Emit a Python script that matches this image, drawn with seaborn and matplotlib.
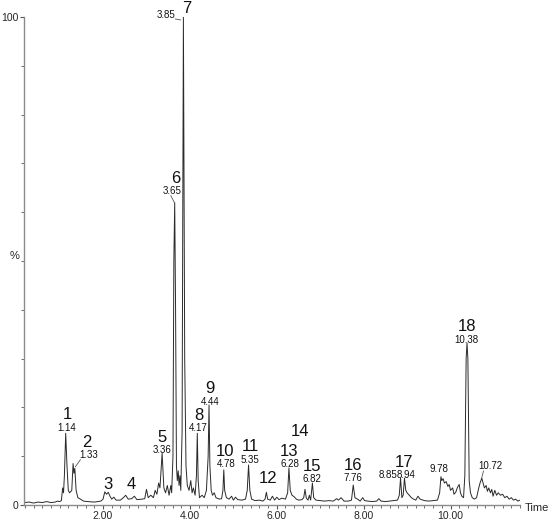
import matplotlib
matplotlib.use("Agg")
import matplotlib.pyplot as plt
import seaborn as sns
import pandas as pd
import numpy as np

# ---- data (retention time in min, relative intensity %) ----
time = [0.18, 0.3, 0.4, 0.5, 0.6, 0.7, 0.8, 0.9, 0.95, 1.0,
        1.04, 1.07, 1.09, 1.11, 1.14, 1.17, 1.20, 1.23,
        1.28, 1.31, 1.33, 1.35, 1.38, 1.42, 1.48, 1.55,
        1.65, 1.8, 1.95, 2.0,
        2.04, 2.08, 2.12, 2.16, 2.2, 2.25, 2.3, 2.4,
        2.48, 2.52, 2.58, 2.66, 2.72, 2.78, 2.9,
        2.96, 3.0, 3.04, 3.1, 3.16, 3.2, 3.24, 3.28, 3.31, 3.36, 3.40, 3.44, 3.48, 3.52, 3.56, 3.58,
        3.61, 3.63, 3.65, 3.67, 3.69, 3.71,
        3.73, 3.75, 3.77, 3.79,
        3.82, 3.85, 3.88, 3.91, 3.94,
        3.98, 4.02, 4.05, 4.08, 4.12,
        4.15, 4.17, 4.19, 4.22, 4.28, 4.33, 4.38,
        4.42, 4.44, 4.46, 4.49, 4.52, 4.56, 4.6, 4.68, 4.73,
        4.76, 4.78, 4.80, 4.84, 4.9, 4.96, 5.0, 5.05, 5.1, 5.2, 5.28,
        5.32, 5.35, 5.38, 5.42, 5.5, 5.6, 5.68,
        5.73, 5.76, 5.79, 5.85, 5.9, 5.95, 6.0, 6.05, 6.12, 6.2,
        6.25, 6.28, 6.31, 6.35, 6.4, 6.45, 6.5, 6.58,
        6.62, 6.65, 6.68, 6.72, 6.75, 6.78, 6.82, 6.85, 6.9, 7.0, 7.1, 7.2, 7.3, 7.38, 7.42, 7.48,
        7.55, 7.65, 7.72,
        7.76, 7.80, 7.86, 7.92, 7.98, 8.02, 8.1, 8.2, 8.3, 8.35, 8.4, 8.5, 8.6, 8.7, 8.78,
        8.82, 8.85, 8.88, 8.91, 8.94, 8.97, 9.0, 9.05, 9.1, 9.15, 9.2, 9.25, 9.3, 9.4, 9.5, 9.6,
        9.7, 9.75,
        9.78, 9.8, 9.83, 9.86, 9.9, 9.94, 9.97, 10.0, 10.05, 10.08, 10.12, 10.16, 10.2, 10.23,
        10.26, 10.3,
        10.33, 10.36, 10.38, 10.40, 10.43, 10.46, 10.5, 10.55, 10.6, 10.65, 10.68,
        10.72, 10.75, 10.78, 10.82, 10.85, 10.88, 10.92, 10.95, 10.98, 11.02, 11.06, 11.1, 11.15,
        11.2, 11.25, 11.3, 11.35, 11.4, 11.45, 11.5, 11.55, 11.6]
intensity = [0.5, 0.6, 0.4, 0.6, 0.5, 0.7, 0.5, 0.6, 0.8, 0.7,
             0.9, 3.5, 2.5, 6.0, 14.7, 8.0, 3.0, 2.5,
             3.0, 8.5, 6.5, 7.5, 3.0, 1.5, 1.2, 0.8,
             0.7, 0.6, 0.8, 1.2,
             2.7, 2.2, 2.6, 1.8, 1.2, 1.6, 1.0, 1.0,
             1.6, 2.0, 1.2, 1.3, 1.8, 1.1, 1.2,
             1.3, 3.2, 1.5, 2.0, 1.5, 3.0, 2.2, 4.5, 3.5, 10.6, 3.5, 2.5, 4.0, 2.0, 4.0, 2.5,
             10.0, 50.0, 62.0, 40.0, 8.0, 5.0,
             7.0, 4.0, 6.0, 3.0,
             15.0, 100.0, 30.0, 8.0, 4.0,
             3.0, 5.0, 2.5, 3.5, 2.0,
             6.0, 14.7, 5.0, 1.5, 2.0, 1.5, 3.0,
             10.0, 20.5, 8.0, 3.0, 2.0, 2.5, 1.5, 1.2, 1.3,
             3.0, 7.2, 3.0, 1.5, 1.2, 1.8, 1.0, 1.6, 1.1, 1.0, 1.2,
             3.0, 8.2, 3.0, 1.2, 0.9, 1.0, 0.8,
             1.2, 2.6, 1.2, 1.0, 1.8, 1.0, 1.6, 1.1, 1.4, 1.2,
             2.5, 7.6, 3.0, 2.0, 1.7, 1.2, 1.0, 1.1,
             1.5, 3.2, 1.4, 1.0, 2.0, 1.0, 4.5, 1.5, 1.0, 0.9, 0.8, 0.9, 0.8, 1.3, 1.0, 1.5,
             0.8, 0.8, 1.0,
             4.1, 1.5, 1.2, 0.8, 1.5, 0.9, 0.8, 0.7, 0.8, 1.3, 0.8, 0.7, 0.8, 0.9, 1.0,
             2.0, 5.5, 1.5, 2.0, 5.5, 3.0, 2.5, 2.0, 1.5, 1.2, 1.0, 1.8, 1.2, 0.9, 0.8, 0.9,
             1.0, 2.5,
             5.8, 5.0, 5.4, 4.5, 4.8, 3.8, 4.2, 3.0, 3.5, 2.2, 2.6, 3.6, 4.2, 2.5,
             1.8, 1.5,
             6.0, 30.0, 33.2, 30.0, 5.0, 2.5, 1.5, 1.2, 1.5, 3.5, 4.5,
             5.5, 4.5, 3.5, 4.0, 2.8, 3.5, 2.5, 3.2, 1.8, 3.0, 2.0, 2.5, 2.0,
             2.2, 1.5, 1.8, 1.2, 1.5, 1.0, 1.2, 0.8, 1.0]

# peak number labels: (text, time, %)
peak_numbers = ["1", "2", "3", "4", "5", "6", "7", "8", "9", "10", "11", "12", "13", "14",
                "15", "16", "17", "18"]
peak_num_x = [1.19, 1.62, 2.11, 2.64, 3.36, 3.68, 3.92, 4.21, 4.46, 4.81, 5.39, 5.80, 6.29,
              6.54, 6.82, 7.76, 8.94, 10.39]
peak_num_y = [18.6, 12.9, 4.3, 4.3, 13.9, 67.0, 101.8, 18.4, 23.8, 10.9, 11.9, 5.5, 10.9,
              15.0, 7.8, 8.0, 8.8, 36.5]

# retention-time labels: (text, time, %)
rt_text = ["1.14", "1.33", "3.36", "3.65", "3.85", "4.17", "4.44", "4.78", "5.35", "6.28",
           "6.82", "7.76", "8.85", "8.94", "9.78", "10.72", "10.38"]
rt_x = [1.17, 1.66, 3.36, 3.59, 3.45, 4.19, 4.46, 4.83, 5.39, 6.31,
        6.82, 7.76, 8.55, 8.97, 9.74, 10.92, 10.36]
rt_y = [15.8, 10.2, 11.3, 64.3, 100.4, 15.8, 21.1, 8.4, 9.2, 8.4,
        5.3, 5.5, 6.1, 6.1, 7.4, 8.0, 33.8]

x_ticks = [2.0, 4.0, 6.0, 8.0, 10.0]
x_tick_labels = ["2.00", "4.00", "6.00", "8.00", "10.00"]

df = pd.DataFrame({"Time": time, "Intensity": intensity})

sns.set_style("white")
plt.rcParams["font.family"] = ["Liberation Sans", "DejaVu Sans"]

fig = plt.figure(figsize=(5.5, 5.23), dpi=100)
ax = fig.add_axes([24 / 550, 1 - 505 / 523, (520 - 24) / 550, (505 - 17) / 523])

sns.lineplot(data=df, x="Time", y="Intensity", ax=ax, color="#2a2a2a", linewidth=0.7,
             sort=False, estimator=None)

ax.set_xlim(0.18, 11.6)
ax.set_ylim(0, 100)

for s in ["top", "right"]:
    ax.spines[s].set_visible(False)
for s in ["left", "bottom"]:
    ax.spines[s].set_color("#8a8a8a")
    ax.spines[s].set_linewidth(1.0)

ax.set_xticks(x_ticks)
ax.set_xticklabels(x_tick_labels)
ax.set_xticks(np.arange(0.2, 11.61, 0.2), minor=True)
ax.set_yticks([0, 100])
ax.set_yticklabels(["0", "100"])
ax.set_yticks(np.arange(10, 100, 10), minor=True)
ax.tick_params(axis="both", which="major", direction="out", length=3, width=0.8,
               color="#555555", labelsize=7.5, pad=1)
ax.tick_params(axis="both", which="minor", direction="out", length=2, width=0.6,
               color="#555555")
ax.tick_params(axis="x", which="both", bottom=True)
ax.tick_params(axis="y", which="both", left=True)

ax.set_xlabel("")
ax.set_ylabel("%", rotation=0, fontsize=8, labelpad=2)
ax.yaxis.set_label_coords(-0.02, 0.5)
fig.text(525 / 550, 1 - 508 / 523, "Time", fontsize=8, ha="left", va="center")

for t, x, y in zip(peak_numbers, peak_num_x, peak_num_y):
    ax.text(x, y, t, fontsize=12, ha="center", va="center", color="#111111", clip_on=False)
for t, x, y in zip(rt_text, rt_x, rt_y):
    ax.text(x, y, t, fontsize=7, ha="center", va="center", color="#111111", clip_on=False)

# leader lines
lead = dict(color="#555555", linewidth=0.6)
ax.plot([3.66, 3.79], [99.6, 99.4], **lead, clip_on=False)
ax.plot([3.56, 3.64], [63.4, 62.0], **lead)
ax.plot([1.48, 1.36], [9.3, 7.8], **lead)
ax.plot([10.76, 10.72], [7.0, 5.6], **lead)

fig.savefig("out.png", dpi=100, facecolor="white")
